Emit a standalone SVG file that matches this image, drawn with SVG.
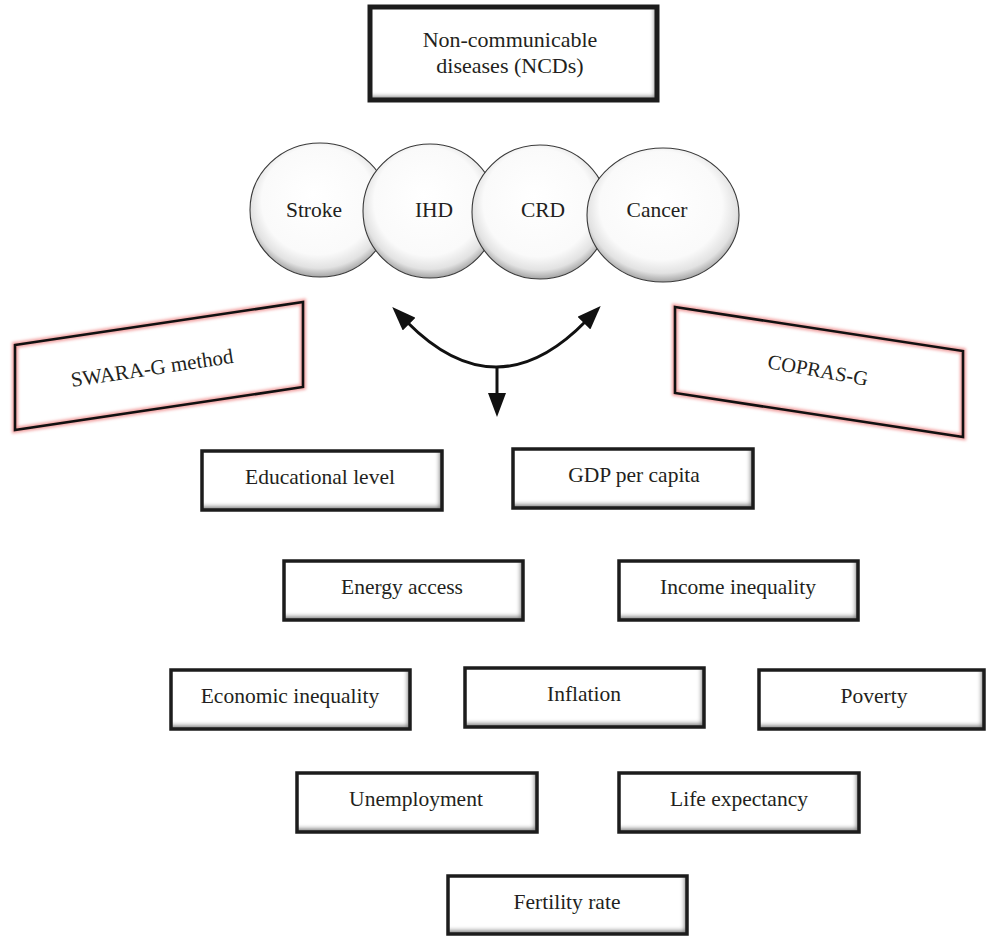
<svg xmlns="http://www.w3.org/2000/svg" width="988" height="936" viewBox="0 0 988 936">
  <defs>
    <style>
      .bx{fill:#fff;filter:url(#bevel)}
      .fr{fill:none;stroke:#1c1c1c;stroke-width:3.5}
      .lb{font-family:"Liberation Serif","Times New Roman",serif;font-size:21.5px;fill:#231f20;text-anchor:middle}
      .ball{fill:url(#ballg);stroke:#3a3a3a;stroke-width:1.1}
      .glow{fill:none;stroke:#f2a0a0;stroke-width:6;filter:url(#soft)}
      .pg{fill:none;stroke:#111;stroke-width:2.6;stroke-linejoin:miter}
      .con{fill:none;stroke:#111;stroke-width:3}
    </style>
    <filter id="bevel" x="-6%" y="-18%" width="112%" height="136%">
      <feComponentTransfer in="SourceAlpha" result="inv">
        <feFuncA type="table" tableValues="1 0"/>
      </feComponentTransfer>
      <feGaussianBlur in="inv" stdDeviation="2.2" result="blur"/>
      <feOffset in="blur" dx="-3" dy="-4" result="off"/>
      <feFlood flood-color="#000" flood-opacity="0.8"/>
      <feComposite in2="off" operator="in" result="sh"/>
      <feComposite in="sh" in2="SourceAlpha" operator="in" result="ish"/>
      <feMerge>
        <feMergeNode in="SourceGraphic"/>
        <feMergeNode in="ish"/>
      </feMerge>
    </filter>
    <filter id="soft" x="-10%" y="-20%" width="120%" height="140%">
      <feGaussianBlur stdDeviation="1.8"/>
    </filter>
    <radialGradient id="ballg" cx="0.5" cy="0.45" r="0.56" fx="0.45" fy="0.38">
      <stop offset="0" stop-color="#ffffff"/>
      <stop offset="0.72" stop-color="#fafafa"/>
      <stop offset="0.88" stop-color="#e2e2e2"/>
      <stop offset="1" stop-color="#9c9c9c"/>
    </radialGradient>
    <marker id="ah" viewBox="0 0 24 18" refX="3" refY="9" markerWidth="24" markerHeight="18" markerUnits="userSpaceOnUse" orient="auto-start-reverse">
      <path d="M0,0 L24,9 L0,18 z" fill="#111"/>
    </marker>
  </defs>

  <rect x="0" y="0" width="988" height="936" fill="#fff"/>

  <g id="n-ncd">
    <rect class="bx" x="370" y="7" width="287" height="93"/>
    <rect class="fr" x="370" y="7" width="287" height="93" style="stroke-width:5"/>
    <text class="lb" x="510" y="47" style="font-size:22px">Non-communicable</text>
    <text class="lb" x="510" y="73" style="font-size:22px">diseases (NCDs)</text>
  </g>

  <g id="n-stroke">
    <ellipse class="ball" cx="320" cy="210" rx="70" ry="67"/>
    <text class="lb" x="314" y="217">Stroke</text>
  </g>
  <g id="n-ihd">
    <ellipse class="ball" cx="430" cy="211" rx="67" ry="67"/>
    <text class="lb" x="434" y="217">IHD</text>
  </g>
  <g id="n-crd">
    <ellipse class="ball" cx="540" cy="212" rx="68" ry="67"/>
    <text class="lb" x="543" y="217">CRD</text>
  </g>
  <g id="n-cancer">
    <ellipse class="ball" cx="663" cy="215" rx="76" ry="67"/>
    <text class="lb" x="657" y="217">Cancer</text>
  </g>

  <g id="n-swara">
    <polygon class="glow" points="15,345 303,302 303,387 15,430"/>
    <polygon class="pg" points="15,345 303,302 303,387 15,430"/>
    <text class="lb" transform="translate(152,368) rotate(-8.5)" x="0" y="7" style="font-size:21px">SWARA-G method</text>
  </g>

  <g id="n-copras">
    <polygon class="glow" points="675,307 963,351 963,437 675,393"/>
    <polygon class="pg" points="675,307 963,351 963,437 675,393"/>
    <text class="lb" transform="translate(818,370) rotate(10)" x="0" y="7" style="font-size:20.5px">COPRAS-G</text>
  </g>

  <g id="connectors">
    <path class="con" d="M407,322 Q496.5,412.5 586,321" marker-start="url(#ah)" marker-end="url(#ah)"/>
    <path class="con" d="M497,366 L497,396" marker-end="url(#ah)"/>
  </g>

  <g id="n-edu">
    <rect class="bx" x="202" y="451" width="240" height="59"/>
    <rect class="fr" x="202" y="451" width="240" height="59"/>
    <text class="lb" x="320" y="484">Educational level</text>
  </g>
  <g id="n-gdp">
    <rect class="bx" x="513" y="449" width="240" height="59"/>
    <rect class="fr" x="513" y="449" width="240" height="59"/>
    <text class="lb" x="634" y="482">GDP per capita</text>
  </g>
  <g id="n-energy">
    <rect class="bx" x="284" y="561" width="239" height="59"/>
    <rect class="fr" x="284" y="561" width="239" height="59"/>
    <text class="lb" x="402" y="594">Energy access</text>
  </g>
  <g id="n-income">
    <rect class="bx" x="619" y="561" width="239" height="59"/>
    <rect class="fr" x="619" y="561" width="239" height="59"/>
    <text class="lb" x="738" y="594">Income inequality</text>
  </g>
  <g id="n-econ">
    <rect class="bx" x="171" y="670" width="239" height="59"/>
    <rect class="fr" x="171" y="670" width="239" height="59"/>
    <text class="lb" x="290" y="703">Economic inequality</text>
  </g>
  <g id="n-infl">
    <rect class="bx" x="465" y="668" width="239" height="59"/>
    <rect class="fr" x="465" y="668" width="239" height="59"/>
    <text class="lb" x="584" y="701">Inflation</text>
  </g>
  <g id="n-poverty">
    <rect class="bx" x="759" y="670" width="225" height="59"/>
    <rect class="fr" x="759" y="670" width="225" height="59"/>
    <text class="lb" x="874" y="703">Poverty</text>
  </g>
  <g id="n-unemp">
    <rect class="bx" x="297" y="773" width="240" height="59"/>
    <rect class="fr" x="297" y="773" width="240" height="59"/>
    <text class="lb" x="416" y="806">Unemployment</text>
  </g>
  <g id="n-life">
    <rect class="bx" x="619" y="773" width="240" height="59"/>
    <rect class="fr" x="619" y="773" width="240" height="59"/>
    <text class="lb" x="739" y="806">Life expectancy</text>
  </g>
  <g id="n-fert">
    <rect class="bx" x="448" y="876" width="239" height="58"/>
    <rect class="fr" x="448" y="876" width="239" height="58"/>
    <text class="lb" x="567" y="909">Fertility rate</text>
  </g>
</svg>
